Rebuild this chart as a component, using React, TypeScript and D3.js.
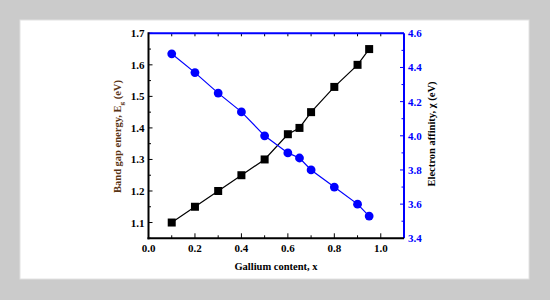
import React from "react";
import * as d3 from "d3";

const xValues = [0.1, 0.2, 0.3, 0.4, 0.5, 0.6, 0.65, 0.7, 0.8, 0.9, 0.95];
const bandGap = [1.1, 1.15, 1.2, 1.25, 1.3, 1.38, 1.4, 1.45, 1.53, 1.6, 1.65];
const affinity = [4.48, 4.37, 4.25, 4.14, 4.0, 3.9, 3.87, 3.8, 3.7, 3.6, 3.53];
const xTicks = [0.0, 0.2, 0.4, 0.6, 0.8, 1.0];
const xMinorTicks = [0.1, 0.3, 0.5, 0.7, 0.9];
const leftTicks = [1.1, 1.2, 1.3, 1.4, 1.5, 1.6, 1.7];
const rightTicks = [3.4, 3.6, 3.8, 4.0, 4.2, 4.4, 4.6];
const rightMinor = [3.5, 3.7, 3.9, 4.1, 4.3, 4.5];

const W = 550, H = 300;
const L = 148.5, R = 404, T = 33.3, B = 238.3;
const FONT = "'Liberation Serif', 'Times New Roman', serif";

export default function App() {
  const x = d3.scaleLinear().domain([0, 1.1]).range([L, R]);
  const yL = d3.scaleLinear().domain([1.05, 1.7]).range([B, T]);
  const yR = d3.scaleLinear().domain([3.4, 4.6]).range([B, T]);
  const ptsL = xValues.map((v, i) => [x(v), yL(bandGap[i])] as [number, number]);
  const ptsR = xValues.map((v, i) => [x(v), yR(affinity[i])] as [number, number]);
  const line = d3.line();
  const leftMinor = leftTicks.map((t) => t - 0.05);
  const blue = "#0000ff";
  return (
    <svg width={W} height={H} style={{ position: "absolute", left: 0, top: 0 }}>
      <rect x={0} y={0} width={W} height={H} fill="#cbcbcb" />
      <rect x={20} y={20} width={509} height={259} fill="#ffffff" stroke="#e2e2e2" strokeWidth={1} />
      {[...xTicks, ...xMinorTicks].filter((t) => t > 0).map((t) => (
        <line key={"tt" + t} x1={x(t)} x2={x(t)} y1={T} y2={T + 3} stroke="#000" strokeWidth={1} />
      ))}
      {xTicks.filter((t) => t > 0).map((t) => (
        <line key={"bt" + t} x1={x(t)} x2={x(t)} y1={B} y2={B - 5} stroke="#000" strokeWidth={1} />
      ))}
      {xMinorTicks.map((t) => (
        <line key={"bm" + t} x1={x(t)} x2={x(t)} y1={B} y2={B - 3} stroke="#000" strokeWidth={1} />
      ))}
      {leftTicks.map((t) => (
        <line key={"lt" + t} x1={L} x2={L + 4} y1={yL(t)} y2={yL(t)} stroke="#000" strokeWidth={1} />
      ))}
      {leftMinor.map((t) => (
        <line key={"lm" + t} x1={L} x2={L + 2.5} y1={yL(t)} y2={yL(t)} stroke="#000" strokeWidth={1} />
      ))}
      {rightTicks.map((t) => (
        <line key={"rt" + t} x1={R} x2={R - 4} y1={yR(t)} y2={yR(t)} stroke={blue} strokeWidth={1} />
      ))}
      {rightMinor.map((t) => (
        <line key={"rm" + t} x1={R} x2={R - 2.5} y1={yR(t)} y2={yR(t)} stroke={blue} strokeWidth={1} />
      ))}
      <line x1={L} x2={R} y1={T} y2={T} stroke={blue} strokeWidth={2} />
      <line x1={R} x2={R} y1={T} y2={B} stroke={blue} strokeWidth={2} />
      <line x1={L} x2={L} y1={T - 1} y2={B + 1} stroke="#000" strokeWidth={2} />
      <line x1={L - 1} x2={R} y1={B} y2={B} stroke="#000" strokeWidth={2} />
      <path d={line(ptsL) || ""} fill="none" stroke="#000" strokeWidth={1.2} />
      {ptsL.map((p, i) => (
        <rect key={"s" + i} x={p[0] - 4} y={p[1] - 4} width={8} height={8} fill="#000" />
      ))}
      <path d={line(ptsR) || ""} fill="none" stroke={blue} strokeWidth={1.2} />
      {ptsR.map((p, i) => (
        <circle key={"c" + i} cx={p[0]} cy={p[1]} r={4.4} fill={blue} />
      ))}
      <g fontFamily={FONT} fontWeight="bold" fontSize={11}>
        {xTicks.map((t) => (
          <text key={"xl" + t} x={x(t)} y={252} textAnchor="middle" fill="#000">{t.toFixed(1)}</text>
        ))}
        {leftTicks.map((t) => (
          <text key={"ll" + t} x={L - 4} y={yL(t) + 4} textAnchor="end" fill="#000">{t.toFixed(1)}</text>
        ))}
        {rightTicks.map((t) => (
          <text key={"rl" + t} x={R + 4} y={yR(t) + 4} textAnchor="start" fill={blue}>{t.toFixed(1)}</text>
        ))}
      </g>
      <g fontFamily={FONT} fontWeight="bold" fontSize={10.5}>
        <text x={276} y={270} textAnchor="middle" fill="#000">Gallium content, x</text>
        <text transform={`translate(121,136.5) rotate(-90)`} textAnchor="middle" fill="#5a3414">
          Band gap energy, E<tspan fontSize={7} dy={2.5}>g</tspan><tspan dy={-2.5}> (eV)</tspan>
        </text>
        <text transform={`translate(435,134) rotate(-90)`} textAnchor="middle" fill="#000">
          Electron affinity, χ (eV)
        </text>
      </g>
    </svg>
  );
}
